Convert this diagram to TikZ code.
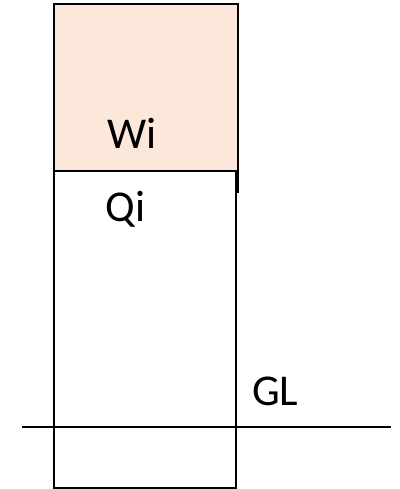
\documentclass[tikz,border=0pt]{standalone}
\usepackage{fontspec}
\setmainfont{Carlito}
\definecolor{peach}{RGB}{252,232,218}
\begin{document}
\begin{tikzpicture}[x=1pt,y=-1pt,
  edge/.style={line width=2pt,black},
  lbl/.style={anchor=base west,inner sep=0pt,font=\fontsize{44}{48}\selectfont}]
\useasboundingbox (0,0) rectangle (399,489);
% upper (weight) block
\draw[edge,fill=peach] (54,4.5) rectangle (237.5,192);
% lower block
\draw[edge,fill=white] (54,171) rectangle (236,487.5);
% ground line
\coordinate (gl1) at (22,427);
\coordinate (gl2) at (391,427);
\draw[edge] (gl1) -- (gl2);
\node[lbl] (wi) at (107.5,148.5) {Wi};
\node[lbl] (qi) at (105.5,221.5) {Qi};
\node[lbl] (gl) at (252,405.5) {GL};
\end{tikzpicture}
\end{document}
